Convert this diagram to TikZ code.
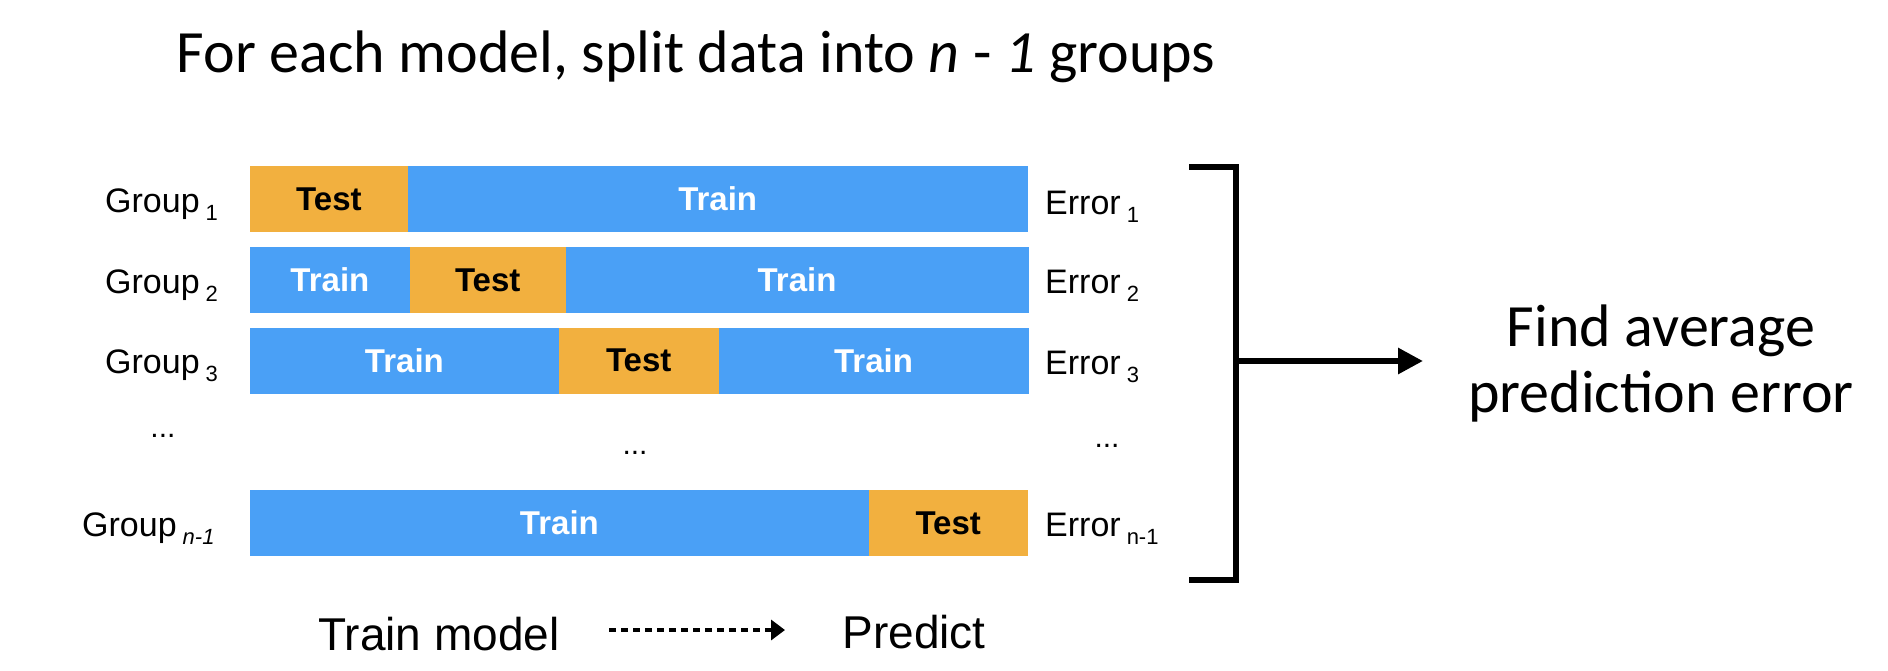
\documentclass[tikz,border=0pt]{standalone}
\usepackage{fontspec}
\setmainfont{Liberation Sans}
\newfontfamily\gill{Carlito}
\usetikzlibrary{arrows.meta}
\definecolor{testc}{HTML}{F2B03F}
\definecolor{trainc}{HTML}{4AA0F6}
\newcommand{\sbs}[1]{\hspace{6pt}\raisebox{-8pt}{\fontsize{22}{24}\selectfont #1}}
\tikzset{
  seg/.style={minimum height=65pt, inner sep=0pt, anchor=west, line width=0.8pt, font=\fontsize{33}{36}\selectfont\bfseries},
  testseg/.style={seg, fill=testc, draw=testc, text=black},
  trainseg/.style={seg, fill=trainc, draw=trainc, text=white},
  lab/.style={anchor=base west, inner sep=0pt, font=\fontsize{34}{40}\selectfont},
  dots/.style={anchor=base, inner sep=0pt, font=\fontsize{30}{36}\selectfont},
  big/.style={anchor=base, inner sep=0pt, font=\fontsize{46}{52}\selectfont},
  gillbig/.style={inner sep=0pt, font=\gill\fontsize{60}{64}\selectfont},
  bracket/.style={line width=6pt},
}
\begin{document}
\begin{tikzpicture}[x=1pt,y=-1pt]
\useasboundingbox (0,0) rectangle (1888,670);
% title
\node[gillbig, anchor=base] (title) at (696,72) {For each model, split data into \textit{n} - \textit{1} groups};
% row 1
\node[testseg, minimum width=157pt] (r1a) at (250,199) {Test};
\node[trainseg, minimum width=619pt] (r1b) at (r1a.east) {Train};
% row 2
\node[trainseg, minimum width=159pt] (r2a) at (250,280) {Train};
\node[testseg, minimum width=155pt] (r2b) at (r2a.east) {Test};
\node[trainseg, minimum width=462pt] (r2c) at (r2b.east) {Train};
% row 3
\node[trainseg, minimum width=308pt] (r3a) at (250,360.5) {Train};
\node[testseg, minimum width=159pt] (r3b) at (r3a.east) {Test};
\node[trainseg, minimum width=309pt] (r3c) at (r3b.east) {Train};
% row n-1
\node[trainseg, minimum width=618pt] (r4a) at (250,523) {Train};
\node[testseg, minimum width=158pt] (r4b) at (r4a.east) {Test};
% group labels
\node[lab] (g1) at (105,212) {Group\sbs{1}};
\node[lab] (g2) at (105,293) {Group\sbs{2}};
\node[lab] (g3) at (105,373) {Group\sbs{3}};
\node[dots] (gd) at (163,437) {...};
\node[lab] (g4) at (82,536) {Group\sbs{\textit{n-1}}};
\node[dots] (md) at (635,454) {...};
% error labels
\node[lab] (e1) at (1045,214) {Error\sbs{1}};
\node[lab] (e2) at (1045,293) {Error\sbs{2}};
\node[lab] (e3) at (1045,374) {Error\sbs{3}};
\node[dots] (ed) at (1107,447) {...};
\node[lab] (e4) at (1045,536) {Error\sbs{n-1}};
% bracket
\coordinate (bt1) at (1189,167);
\coordinate (bt2) at (1236,167);
\coordinate (bb2) at (1236,580);
\coordinate (bb1) at (1189,580);
\coordinate (bm) at (1236,361);
\coordinate (tip) at (1423,361);
\draw[bracket] (bt1) -- (bt2) -- (bb2) -- (bb1);
\draw[bracket, -{Triangle[length=25pt,width=25pt]}] (bm) -- (tip);
\node[gillbig, align=center] (avg) at (1661,363) {Find average\\[2pt]prediction error};
% legend
\node[big] (tm) at (439,650) {Train model};
\node[big] (pr) at (914,648) {Predict};
\coordinate (da) at (609,630);
\coordinate (db) at (785,630);
\draw[line width=4pt, dash pattern=on 7pt off 5pt, -{Triangle[length=14pt,width=20pt]}] (da) -- (db);
\end{tikzpicture}
\end{document}
